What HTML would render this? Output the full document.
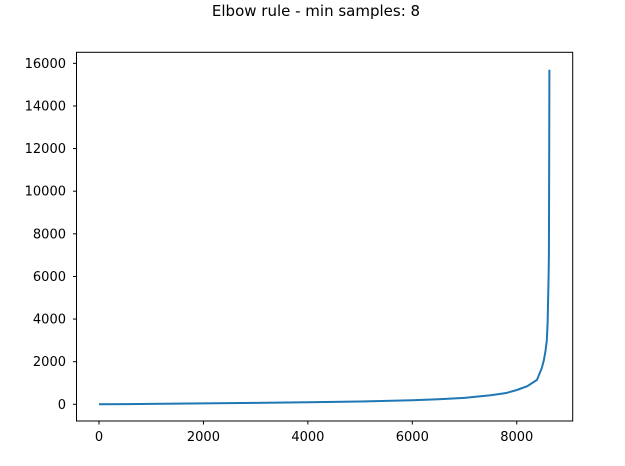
<!DOCTYPE html>
<html><head><meta charset="utf-8"><style>
body{margin:0;background:#fff}
svg text{font-family:"DejaVu Sans","Liberation Sans",sans-serif;font-size:13px;fill:#000}
</style></head><body>
<svg width="625" height="461">
<text x="316" y="16" text-anchor="middle" style="font-size:15px">Elbow rule - min samples: 8</text>
<rect x="76.5" y="52.3" width="496.2" height="368.7" fill="none" stroke="#000" stroke-width="1"/>
<g id="xt"></g>
<g id="yt"></g>
<path id="line" fill="none" stroke="#1f77b4" stroke-width="2"/>
</svg>
<script>
const xTicks=[0,2000,4000,6000,8000];
const yTicks=[0,2000,4000,6000,8000,10000,12000,14000,16000];
const xs=[0,1000,2000,3000,4000,5000,6000,6500,7000,7500,7800,8000,8200,8385,8480,8520,8550,8575,8590,8600,8610,8615,8620,8626];
const ys=[0,20,40,65,95,130,190,240,300,420,530,670,850,1140,1700,2080,2500,3000,3800,4900,6000,7000,10000,15700];
const X=v=>99+v*0.05222, Y=v=>404.3-v*0.02131;
const ns="http://www.w3.org/2000/svg";
const xt=document.getElementById('xt'), yt=document.getElementById('yt');
xTicks.forEach(t=>{
 const l=document.createElementNS(ns,'line');l.setAttribute('x1',X(t));l.setAttribute('x2',X(t));l.setAttribute('y1',421);l.setAttribute('y2',424.5);l.setAttribute('stroke','#000');
 
 
 xt.appendChild(l);
 const s=document.createElementNS(ns,'text');s.setAttribute('x',X(t));s.setAttribute('y',441);s.setAttribute('text-anchor','middle');s.textContent=t;
 
 
 xt.appendChild(s);
});
yTicks.forEach(t=>{
 const l=document.createElementNS(ns,'line');l.setAttribute('x1',73);l.setAttribute('x2',76.5);l.setAttribute('y1',Y(t));l.setAttribute('y2',Y(t));l.setAttribute('stroke','#000');
 
 
 yt.appendChild(l);
 const s=document.createElementNS(ns,'text');s.setAttribute('x',66);s.setAttribute('y',Y(t)+4.5);s.setAttribute('text-anchor','end');s.textContent=t;
 
 
 yt.appendChild(s);
});
document.getElementById('line').setAttribute('d',xs.map((v,i)=>(i?'L':'M')+X(v).toFixed(1)+','+Y(ys[i]).toFixed(1)).join(''));
</script>
</body></html>
